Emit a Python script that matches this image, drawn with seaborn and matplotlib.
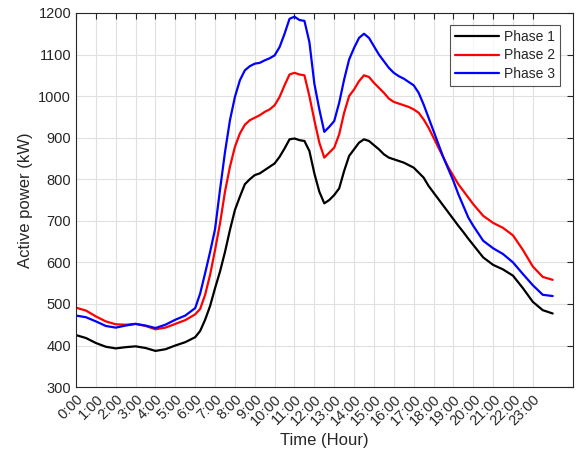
import matplotlib
matplotlib.use('Agg')
import matplotlib.pyplot as plt
import numpy as np
import pandas as pd
import seaborn as sns

# sample times: half-hourly at night, quarter-hourly 6:00-20:00
hours = ([h * 0.5 for h in range(12)] + [6 + q * 0.25 for q in range(57)]
         + [20.5 + h * 0.5 for h in range(8)])

phase1 = [425, 418, 406, 397, 393, 396, 398, 394, 387, 391, 400, 408,
          420, 435, 462, 495, 538, 578, 625, 678, 726, 758, 788, 800, 810,
          814, 822, 830, 838, 854, 874, 896, 898, 894, 892, 868, 814,
          770, 742, 750, 762, 778, 820, 856, 872, 888, 896, 892, 882,
          872, 860, 852, 848, 844, 840, 834, 828, 816, 804, 784, 768,
          752, 736, 720, 704, 688, 673, 657, 642,
          612, 594, 583, 568, 538, 505, 485, 477]
phase2 = [491, 484, 470, 458, 451, 450, 452, 447, 439, 443, 452, 461,
          475, 488, 522, 570, 630, 694, 770, 830, 878, 910, 931, 942, 948,
          954, 962, 968, 978, 998, 1026, 1052, 1056, 1052, 1050, 1000, 942,
          888, 852, 864, 876, 908, 960, 1000, 1016, 1036, 1050, 1046, 1032,
          1020, 1008, 994, 986, 982, 978, 974, 968, 960, 944, 924, 900,
          876, 852, 828, 808, 788, 772, 756, 740,
          712, 695, 683, 665, 630, 590, 565, 558]
phase3 = [472, 468, 458, 447, 443, 448, 452, 448, 442, 450, 462, 472,
          490, 525, 574, 625, 680, 775, 865, 942, 998, 1038, 1062, 1072, 1078,
          1080, 1086, 1091, 1098, 1118, 1150, 1186, 1191, 1183, 1181, 1130, 1030,
          968, 914, 926, 940, 984, 1040, 1088, 1116, 1140, 1150, 1140, 1120,
          1100, 1084, 1068, 1056, 1048, 1042, 1034, 1026, 1008, 980, 948, 916,
          884, 852, 824, 796, 764, 736, 708, 688,
          652, 634, 620, 600, 572, 545, 522, 519]

tick_hours = list(range(24))
tick_labels = ['%d:00' % h for h in tick_hours]

n = len(hours)
df = pd.DataFrame({
    'hour': hours * 3,
    'power': phase1 + phase2 + phase3,
    'phase': ['Phase 1'] * n + ['Phase 2'] * n + ['Phase 3'] * n,
})

sns.set_style('white')
plt.rcParams['font.family'] = ['Liberation Sans', 'DejaVu Sans']

fig = plt.figure(figsize=(5.76, 4.63), dpi=100)
ax = fig.add_axes([0.132, 0.164, 0.862, 0.808])
sns.lineplot(data=df, x='hour', y='power', hue='phase',
             palette=['#000000', '#ff0000', '#0000ff'], linewidth=1.6, ax=ax)

ax.set_xlim(0, 25)
ax.set_ylim(300, 1200)
ax.set_xticks(tick_hours)
ax.set_xticklabels(tick_labels, rotation=45, ha='right', rotation_mode='anchor',
                   fontsize=10.5, color='#262626')
ax.set_yticks(range(300, 1201, 100))
ax.tick_params(axis='y', labelsize=10.5, labelcolor='#262626')
ax.tick_params(direction='in', top=True, right=True, length=4, color='#262626')
ax.grid(True, color='#e0e0e0', linewidth=0.8)
for s in ax.spines.values():
    s.set_color('#262626')
    s.set_linewidth(0.8)

ax.set_xlabel('Time (Hour)', fontsize=12, color='#262626')
ax.set_ylabel('Active power (kW)', fontsize=12, color='#262626')

leg = ax.legend(loc='upper right', fontsize=10, frameon=True, fancybox=False,
                edgecolor='#262626', handlelength=3.2, handletextpad=0.35,
                labelspacing=0.3, borderpad=0.35, borderaxespad=0.9)
leg.get_frame().set_linewidth(0.8)

fig.savefig('out.png', dpi=100)
